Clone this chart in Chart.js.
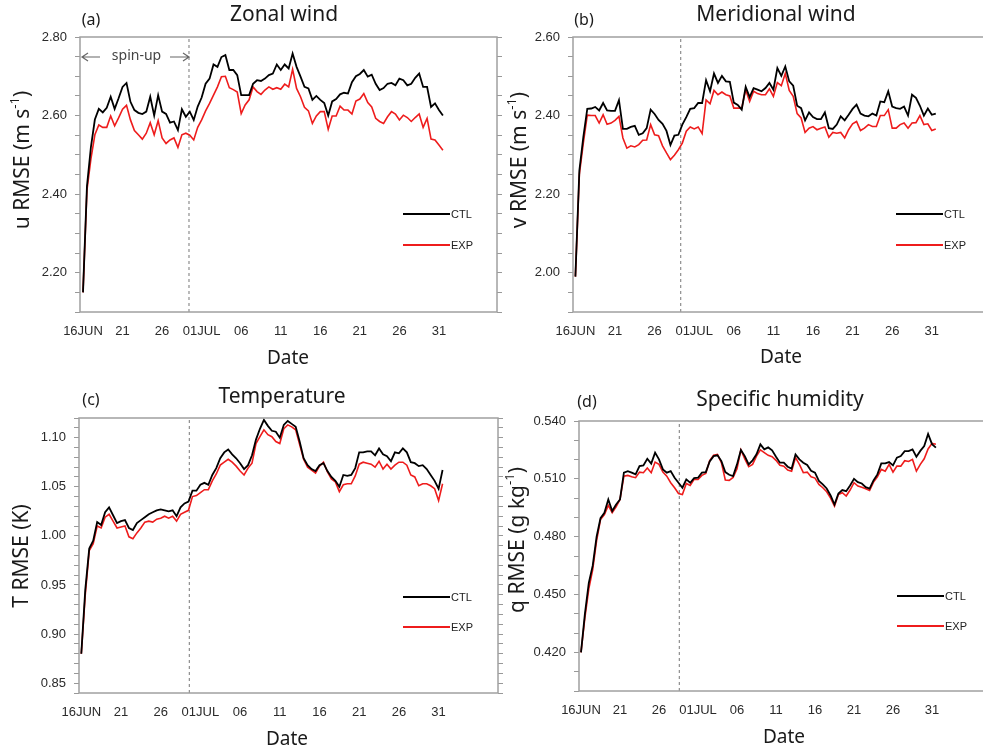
<!DOCTYPE html>
<html>
<head>
<meta charset="utf-8">
<script src="https://cdn.jsdelivr.net/npm/chart.js@4.4.0/dist/chart.umd.min.js"></script>
<style>
  html, body { margin: 0; padding: 0; background: #fff; overflow: hidden; }
  body { width: 983px; height: 750px; position: relative; }
  .panel { position: absolute; width: 510px; height: 375px; }
</style>
</head>
<body>
<div class="panel" style="left:0;top:0"><canvas id="pa" width="510" height="375"></canvas></div>
<div class="panel" style="left:490px;top:0"><canvas id="pb" width="510" height="375"></canvas></div>
<div class="panel" style="left:0;top:375px"><canvas id="pc" width="510" height="375"></canvas></div>
<div class="panel" style="left:490px;top:375px"><canvas id="pd" width="510" height="375"></canvas></div>
<script>
// days since 16 JUN 00Z, every 12 h
var days = [0, 0.5, 1, 1.5, 2, 2.5, 3, 3.5, 4, 4.5, 5, 5.5,
  6, 6.5, 7, 7.5, 8, 8.5, 9, 9.5, 10, 10.5, 11, 11.5,
  12, 12.5, 13, 13.5, 14, 14.5, 15, 15.5, 16, 16.5, 17, 17.5,
  18, 18.5, 19, 19.5, 20, 20.5, 21, 21.5, 22, 22.5, 23, 23.5,
  24, 24.5, 25, 25.5, 26, 26.5, 27, 27.5, 28, 28.5, 29, 29.5,
  30, 30.5, 31, 31.5, 32, 32.5, 33, 33.5, 34, 34.5, 35, 35.5,
  36, 36.5, 37, 37.5, 38, 38.5, 39, 39.5, 40, 40.5, 41, 41.5,
  42, 42.5, 43, 43.5, 44, 44.5, 45, 45.5];

var tickDays = [0, 5, 10, 15, 20, 25, 30, 35, 40, 45];
var tickLabels = ["16JUN", "21", "26", "01JUL", "06", "11", "16", "21", "26", "31"];

var uCTL = [2.15, 2.42, 2.52, 2.59, 2.617, 2.608, 2.62, 2.648, 2.617, 2.644, 2.673, 2.683,
  2.635, 2.614, 2.607, 2.604, 2.61, 2.648, 2.60, 2.652, 2.61, 2.604, 2.582, 2.585,
  2.563, 2.616, 2.597, 2.61, 2.589, 2.623, 2.646, 2.681, 2.694, 2.73, 2.724, 2.749,
  2.754, 2.716, 2.716, 2.703, 2.652, 2.652, 2.652, 2.681, 2.69, 2.688, 2.694, 2.703,
  2.707, 2.73, 2.716, 2.73, 2.72, 2.758, 2.724, 2.699, 2.673, 2.669, 2.64, 2.65,
  2.64, 2.632, 2.60, 2.636, 2.642, 2.654, 2.658, 2.656, 2.685, 2.70, 2.706, 2.716,
  2.699, 2.704, 2.681, 2.665, 2.67, 2.681, 2.683, 2.677, 2.694, 2.69, 2.677, 2.681,
  2.696, 2.707, 2.673, 2.673, 2.622, 2.631, 2.614, 2.60];
var uEXP = [2.15, 2.41, 2.49, 2.551, 2.576, 2.57, 2.57, 2.599, 2.574, 2.594, 2.616, 2.626,
  2.589, 2.562, 2.551, 2.54, 2.555, 2.582, 2.551, 2.587, 2.543, 2.529, 2.538, 2.543,
  2.519, 2.551, 2.555, 2.55, 2.538, 2.57, 2.589, 2.612, 2.631, 2.652, 2.673, 2.699,
  2.70, 2.671, 2.666, 2.66, 2.605, 2.627, 2.64, 2.673, 2.661, 2.654, 2.665, 2.673,
  2.667, 2.671, 2.667, 2.68, 2.673, 2.718, 2.669, 2.648, 2.621, 2.612, 2.58, 2.599,
  2.61, 2.61, 2.565, 2.599, 2.599, 2.624, 2.614, 2.614, 2.604, 2.637, 2.642, 2.656,
  2.633, 2.622, 2.593, 2.585, 2.58, 2.597, 2.61, 2.604, 2.589, 2.601, 2.595, 2.585,
  2.595, 2.604, 2.57, 2.593, 2.54, 2.538, 2.525, 2.512];

var vCTL = [1.99, 2.26, 2.345, 2.417, 2.418, 2.422, 2.413, 2.432, 2.413, 2.412, 2.412, 2.439,
  2.366, 2.366, 2.371, 2.374, 2.351, 2.355, 2.368, 2.415, 2.404, 2.389, 2.379, 2.361,
  2.325, 2.349, 2.351, 2.377, 2.396, 2.417, 2.419, 2.432, 2.432, 2.49, 2.462, 2.507,
  2.483, 2.501, 2.487, 2.486, 2.433, 2.427, 2.415, 2.473, 2.447, 2.47, 2.466, 2.462,
  2.47, 2.483, 2.466, 2.521, 2.501, 2.525, 2.487, 2.476, 2.425, 2.419, 2.388, 2.408,
  2.396, 2.391, 2.391, 2.408, 2.368, 2.366, 2.377, 2.398, 2.388, 2.402, 2.417, 2.428,
  2.405, 2.40, 2.398, 2.405, 2.40, 2.436, 2.434, 2.462, 2.423, 2.419, 2.417, 2.423,
  2.40, 2.453, 2.445, 2.425, 2.40, 2.418, 2.402, 2.405];
var vEXP = [1.99, 2.25, 2.33, 2.401, 2.40, 2.40, 2.381, 2.402, 2.378, 2.381, 2.388, 2.398,
  2.343, 2.317, 2.323, 2.32, 2.326, 2.337, 2.338, 2.377, 2.351, 2.349, 2.323, 2.305,
  2.288, 2.299, 2.313, 2.33, 2.36, 2.371, 2.366, 2.371, 2.354, 2.44, 2.43, 2.464,
  2.453, 2.46, 2.453, 2.45, 2.419, 2.419, 2.419, 2.466, 2.436, 2.462, 2.456, 2.453,
  2.453, 2.468, 2.449, 2.484, 2.476, 2.507, 2.464, 2.449, 2.405, 2.394, 2.357, 2.368,
  2.372, 2.364, 2.368, 2.371, 2.345, 2.357, 2.355, 2.357, 2.343, 2.364, 2.379, 2.385,
  2.362, 2.368, 2.377, 2.372, 2.372, 2.40, 2.40, 2.415, 2.368, 2.368, 2.377, 2.381,
  2.368, 2.381, 2.382, 2.40, 2.377, 2.379, 2.362, 2.366];

var tCTL = [0.88, 0.945, 0.987, 0.995, 1.014, 1.011, 1.024, 1.029, 1.021, 1.013, 1.015, 1.016,
  1.008, 1.006, 1.013, 1.016, 1.019, 1.022, 1.024, 1.026, 1.027, 1.026, 1.025, 1.026,
  1.02, 1.029, 1.033, 1.035, 1.046, 1.046, 1.052, 1.054, 1.052, 1.062, 1.069, 1.079,
  1.085, 1.088, 1.083, 1.079, 1.074, 1.068, 1.072, 1.082, 1.098, 1.109, 1.118, 1.112,
  1.107, 1.106, 1.10, 1.113, 1.117, 1.114, 1.111, 1.096, 1.079, 1.072, 1.068, 1.066,
  1.072, 1.074, 1.066, 1.06, 1.056, 1.05, 1.062, 1.061, 1.062, 1.069, 1.085, 1.085,
  1.086, 1.086, 1.082, 1.089, 1.083, 1.081, 1.076, 1.085, 1.084, 1.089, 1.085, 1.075,
  1.074, 1.071, 1.072, 1.068, 1.062, 1.056, 1.048, 1.067];
var tEXP = [0.88, 0.94, 0.985, 0.992, 1.01, 1.008, 1.019, 1.022, 1.015, 1.008, 1.009, 1.01,
  0.999, 0.997, 1.003, 1.008, 1.014, 1.015, 1.014, 1.017, 1.018, 1.02, 1.018, 1.02,
  1.015, 1.022, 1.024, 1.026, 1.04, 1.041, 1.044, 1.047, 1.047, 1.056, 1.063, 1.072,
  1.075, 1.078, 1.075, 1.071, 1.066, 1.062, 1.069, 1.074, 1.094, 1.101, 1.108, 1.103,
  1.101, 1.096, 1.094, 1.109, 1.113, 1.111, 1.108, 1.093, 1.078, 1.07, 1.067, 1.064,
  1.071, 1.075, 1.065, 1.058, 1.055, 1.045, 1.052, 1.053, 1.053, 1.061, 1.073, 1.075,
  1.074, 1.073, 1.07, 1.076, 1.068, 1.073, 1.068, 1.072, 1.075, 1.075, 1.072, 1.062,
  1.06, 1.051, 1.053, 1.053, 1.051, 1.048, 1.036, 1.053];

var qCTL = [0.420, 0.440, 0.456, 0.465, 0.480, 0.4896, 0.4924, 0.4993, 0.4933, 0.4967, 0.4993, 0.5132,
  0.514, 0.5132, 0.5123, 0.5166, 0.517, 0.5204, 0.5179, 0.5236, 0.5201, 0.5149, 0.5132, 0.514,
  0.5106, 0.508, 0.5054, 0.5097, 0.508, 0.5104, 0.5106, 0.5132, 0.5135, 0.519, 0.5218, 0.5222,
  0.5192, 0.5135, 0.5121, 0.5114, 0.5175, 0.525, 0.5218, 0.5175, 0.5196, 0.5227, 0.5279, 0.5253,
  0.5263, 0.5248, 0.5215, 0.5184, 0.5184, 0.5163, 0.5153, 0.5227, 0.5201, 0.5184, 0.5172, 0.5142,
  0.5132, 0.5089, 0.5071, 0.505, 0.5014, 0.4967, 0.5024, 0.5042, 0.5036, 0.5066, 0.51, 0.5083,
  0.5076, 0.5057, 0.5049, 0.5092, 0.5123, 0.518, 0.518, 0.5187, 0.517, 0.521, 0.5218, 0.5244,
  0.5244, 0.5253, 0.5215, 0.5245, 0.527, 0.5333, 0.528, 0.5262];
var qEXP = [0.420, 0.438, 0.453, 0.463, 0.478, 0.4889, 0.4915, 0.4962, 0.4924, 0.4955, 0.4993, 0.5114,
  0.5118, 0.5111, 0.5106, 0.5135, 0.5132, 0.5156, 0.5132, 0.5187, 0.5175, 0.5135, 0.5114, 0.508,
  0.5054, 0.5024, 0.5019, 0.5076, 0.5066, 0.5097, 0.5097, 0.5118, 0.5128, 0.5194, 0.5222, 0.5227,
  0.5184, 0.5094, 0.5092, 0.5107, 0.5153, 0.525, 0.5204, 0.5163, 0.5175, 0.5218, 0.525, 0.5236,
  0.5222, 0.5215, 0.5196, 0.517, 0.5166, 0.5146, 0.514, 0.521, 0.5175, 0.5132, 0.5135, 0.5111,
  0.5104, 0.5071, 0.5054, 0.5033, 0.50, 0.4959, 0.5019, 0.5028, 0.5011, 0.5042, 0.508, 0.5063,
  0.5057, 0.5049, 0.504, 0.5083, 0.5111, 0.5149, 0.514, 0.5175, 0.5135, 0.5166, 0.5166, 0.5194,
  0.519, 0.5201, 0.514, 0.5175, 0.5204, 0.5255, 0.5284, 0.5279];

// end of spin-up (dashed line), in days
var spinEnd = [13.4, 13.3, 13.6, 12.6];

var FONT_T = "'Noto Sans', 'Open Sans', sans-serif";
var FONT_A = "'Liberation Sans', Arial, sans-serif";

// layout per panel, canvas pixels
var panels = [
  { id: "pa", tag: "(a)", title: "Zonal wind", ytl: [["u RMSE (m s", 0], ["-1", 1], [")", 0]],
    ctl: uCTL, exp: uEXP, spin: spinEnd[0],
    yMin: 2.10, yMax: 2.80, yStep: 0.05, yEvery: 0.2, yDec: 2,
    area: { l: 80, t: 37, r: 497, b: 312 }, day0: 83, ppd: 7.91,
    tagPos: [91, 20], titlePos: [284, 15], ytPos: [23, 160], datePos: [288, 359],
    leg: [403, 450, 214, 245], spinup: true },
  { id: "pb", tag: "(b)", title: "Meridional wind", ytl: [["v RMSE (m s", 0], ["-1", 1], [")", 0]],
    ctl: vCTL, exp: vEXP, spin: spinEnd[1],
    yMin: 1.90, yMax: 2.60, yStep: 0.05, yEvery: 0.2, yDec: 2,
    area: { l: 83, t: 37, r: 500, b: 312 }, day0: 85.4, ppd: 7.92,
    tagPos: [94, 20], titlePos: [286, 15], ytPos: [30, 160], datePos: [291, 358],
    leg: [406, 453, 214, 245], spinup: false },
  { id: "pc", tag: "(c)", title: "Temperature", ytl: [["T RMSE (K)", 0]],
    ctl: tCTL, exp: tEXP, spin: spinEnd[2],
    yMin: 0.84, yMax: 1.12, yStep: 0.01, yEvery: 0.05, yDec: 2,
    area: { l: 79, t: 43, r: 498, b: 318 }, day0: 81.3, ppd: 7.94,
    tagPos: [91, 25], titlePos: [282, 22], ytPos: [22, 181], datePos: [287, 365],
    leg: [403, 450, 222, 252], spinup: false },
  { id: "pd", tag: "(d)", title: "Specific humidity", ytl: [["q RMSE (g kg", 0], ["-1", 1], [")", 0]],
    ctl: qCTL, exp: qEXP, spin: spinEnd[3],
    yMin: 0.40, yMax: 0.54, yStep: 0.01, yEvery: 0.03, yDec: 3,
    area: { l: 89, t: 46, r: 502, b: 316 }, day0: 91, ppd: 7.8,
    tagPos: [97, 27], titlePos: [290, 25], ytPos: [28, 165], datePos: [294, 363],
    leg: [407, 454, 221, 251], spinup: false }
];

function pts(ys) {
  return ys.map(function(y, i) { return { x: days[i], y: y }; });
}

function rotTitle(ctx, cx, cy, parts) {
  ctx.save();
  ctx.translate(cx, cy);
  ctx.rotate(-Math.PI / 2);
  var big = "21px " + FONT_T, small = "13px " + FONT_T;
  var w = 0;
  parts.forEach(function(p) { ctx.font = p[1] ? small : big; w += ctx.measureText(p[0]).width; });
  var x = -w / 2;
  ctx.textAlign = "left";
  ctx.textBaseline = "middle";
  parts.forEach(function(p) {
    ctx.font = p[1] ? small : big;
    ctx.fillText(p[0], x, p[1] ? -8 : 0);
    x += ctx.measureText(p[0]).width;
  });
  ctx.restore();
}

function decor(p) {
  return {
    id: "decor",
    afterDraw: function(chart) {
      var ctx = chart.ctx, a = chart.chartArea;
      ctx.save();
      ctx.strokeStyle = "#a0a0a0";
      ctx.lineWidth = 1.5;
      ctx.strokeRect(a.left, a.top, a.right - a.left, a.bottom - a.top);

      ctx.fillStyle = "#1a1a1a";
      ctx.textAlign = "center";
      ctx.textBaseline = "middle";
      ctx.font = "16px " + FONT_T;
      ctx.fillText(p.tag, p.tagPos[0], p.tagPos[1]);
      ctx.font = "21px " + FONT_T;
      ctx.fillText(p.title, p.titlePos[0], p.titlePos[1]);
      ctx.font = "19px " + FONT_T;
      ctx.fillText("Date", p.datePos[0], p.datePos[1]);
      rotTitle(ctx, p.ytPos[0], p.ytPos[1], p.ytl);

      // legend
      var L = p.leg;
      ctx.lineWidth = 2;
      ctx.strokeStyle = "#000";
      ctx.beginPath(); ctx.moveTo(L[0], L[2]); ctx.lineTo(L[1], L[2]); ctx.stroke();
      ctx.strokeStyle = "#ee1c1c";
      ctx.beginPath(); ctx.moveTo(L[0], L[3]); ctx.lineTo(L[1], L[3]); ctx.stroke();
      ctx.font = "11px " + FONT_A;
      ctx.textAlign = "left";
      ctx.fillStyle = "#222";
      ctx.fillText("CTL", L[1] + 1, L[2] + 1);
      ctx.fillText("EXP", L[1] + 1, L[3] + 1);

      if (p.spinup) {
        var xs = chart.scales.x;
        var x0 = xs.getPixelForValue(0) - 1, x1 = xs.getPixelForValue(p.spin);
        var y = a.top + 20;
        ctx.strokeStyle = "#666";
        ctx.fillStyle = "#444";
        ctx.lineWidth = 1.2;
        ctx.beginPath();
        ctx.moveTo(x0, y); ctx.lineTo(x0 + 18, y);
        ctx.moveTo(x0 + 6, y - 4); ctx.lineTo(x0, y); ctx.lineTo(x0 + 6, y + 4);
        ctx.moveTo(x1 - 19, y); ctx.lineTo(x1, y);
        ctx.moveTo(x1 - 6, y - 4); ctx.lineTo(x1, y); ctx.lineTo(x1 - 6, y + 4);
        ctx.stroke();
        ctx.font = "14px " + FONT_T;
        ctx.textAlign = "center";
        ctx.fillText("spin-up", (x0 + x1) / 2 + 1, y - 1);
      }
      ctx.restore();
    }
  };
}

panels.forEach(function(p) {
  var A = p.area;
  var xMin = (A.l - p.day0) / p.ppd;
  var xMax = (A.r - p.day0) / p.ppd;
  var yTick = function(v) {
    var k = v / p.yEvery;
    return Math.abs(k - Math.round(k)) < 1e-6 ? v.toFixed(p.yDec) : "";
  };
  new Chart(document.getElementById(p.id), {
    type: "line",
    data: {
      datasets: [
        { label: "CTL", data: pts(p.ctl), borderColor: "#000", borderWidth: 1.8, pointRadius: 0, tension: 0 },
        { label: "EXP", data: pts(p.exp), borderColor: "#ee1c1c", borderWidth: 1.6, pointRadius: 0, tension: 0 },
        { label: "spin", data: [{ x: p.spin, y: p.yMin }, { x: p.spin, y: p.yMax }],
          borderColor: "#777", borderWidth: 1, borderDash: [3, 3], pointRadius: 0 }
      ]
    },
    options: {
      responsive: false,
      animation: false,
      events: [],
      layout: { padding: { left: 0, top: A.t, right: 510 - A.r - 6, bottom: 0 } },
      plugins: { legend: { display: false }, tooltip: { enabled: false } },
      scales: {
        x: {
          type: "linear", min: xMin, max: xMax,
          afterBuildTicks: function(s) { s.ticks = tickDays.map(function(v) { return { value: v }; }); },
          afterFit: function(s) { s.height = 375 - A.b; },
          grid: { display: false, drawTicks: false },
          border: { display: false },
          ticks: {
            autoSkip: false, maxRotation: 0, padding: 12, color: "#2a2a2a",
            font: { family: FONT_A, size: 13 },
            callback: function(v) { var i = tickDays.indexOf(v); return i < 0 ? "" : tickLabels[i]; }
          }
        },
        y: {
          min: p.yMin, max: p.yMax,
          afterFit: function(s) { s.width = A.l; },
          grid: { drawOnChartArea: false, tickLength: 5, color: "#999" },
          border: { display: false },
          ticks: { stepSize: p.yStep, autoSkip: false, padding: 8, color: "#2a2a2a",
            font: { family: FONT_A, size: 13 }, callback: yTick }
        },
        y2: {
          position: "right", min: p.yMin, max: p.yMax,
          afterFit: function(s) { s.width = 6; },
          grid: { drawOnChartArea: false, tickLength: 5, color: "#999" },
          border: { display: false },
          ticks: { stepSize: p.yStep, autoSkip: false, display: false }
        }
      }
    },
    plugins: [decor(p)]
  });
});
</script>
</body>
</html>
